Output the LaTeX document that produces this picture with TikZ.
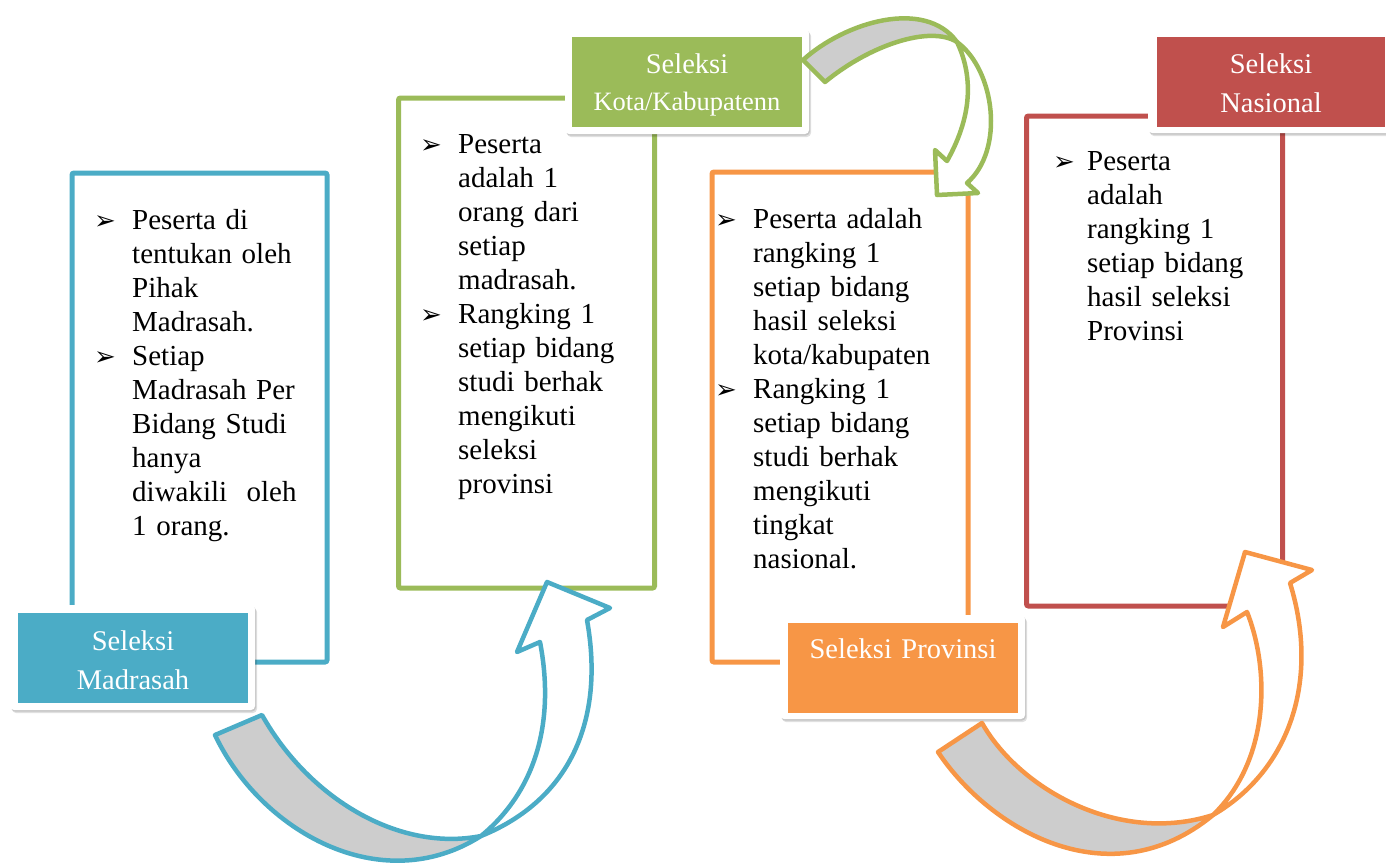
\documentclass[tikz,border=0pt]{standalone}
\usepackage{fontspec}
\setmainfont{Liberation Serif}
\newfontfamily\dejavu{DejaVu Sans}
\usetikzlibrary{shadows}
\definecolor{cblue}{HTML}{4BACC6}
\definecolor{cgreen}{HTML}{9BBB59}
\definecolor{corange}{HTML}{F79646}
\definecolor{cred}{HTML}{C0504D}
\definecolor{cgrey}{HTML}{CDCDCD}
\begin{document}
\begin{tikzpicture}[x=1pt,y=-1pt,
  frame/.style={draw=#1, line width=5pt, rounded corners=2pt, inner sep=0pt, outer sep=0pt},
  backing/.style={fill=white, rounded corners=4pt, inner sep=0pt, outer sep=0pt,
     double copy shadow={shadow xshift=1pt, shadow yshift=-1.5pt, opacity=0.12, fill=black, draw=none}},
  labelfill/.style={fill=#1, inner sep=0pt, outer sep=0pt},
  labeltext/.style={text=white, align=center, text width=230pt, inner sep=0pt,
     font=\fontsize{28.5}{39}\selectfont},
  bodytext/.style={align=left, text width=240pt, inner sep=0pt,
     font=\fontsize{29}{34}\selectfont},
  bul/.style={inner sep=0pt, font=\dejavu\fontsize{26}{30}\selectfont},
  arrowline/.style={draw=#1, line width=4.5pt, line join=round},
]
\useasboundingbox (0,0) rectangle (1386,862);

% ---------- frames ----------
\node[frame=cblue, minimum width=255pt, minimum height=489pt] (box1) at (199.5,417.5) {};
\node[frame=cgreen, minimum width=256pt, minimum height=490pt] (box2) at (526.5,343) {};
\node[frame=corange, minimum width=256pt, minimum height=490pt] (box3) at (840,417) {};
\node[frame=cred, minimum width=256pt, minimum height=490pt] (box4) at (1154.5,361) {};

% ---------- body texts ----------
\node[bul, anchor=base west] (b1a) at (94,229) {➢};
\node[bul, anchor=base west] (b1b) at (94,365) {➢};
\node[bodytext, anchor=base west] (t1) at (132,229)
  {Peserta di\\tentukan oleh\\Pihak\\Madrasah.\\Setiap\\Madrasah Per\\Bidang Studi\\hanya\\diwakili\ \ oleh\\1 orang.};

\node[bul, anchor=base west] (b2a) at (420,153) {➢};
\node[bul, anchor=base west] (b2b) at (420,323) {➢};
\node[bodytext, anchor=base west] (t2) at (458,153)
  {Peserta\\adalah 1\\orang dari\\setiap\\madrasah.\\Rangking 1\\setiap bidang\\studi berhak\\mengikuti\\seleksi\\provinsi};

\node[bul, anchor=base west] (b3a) at (715,228) {➢};
\node[bul, anchor=base west] (b3b) at (715,398) {➢};
\node[bodytext, anchor=base west] (t3) at (753,228)
  {Peserta adalah\\rangking 1\\setiap bidang\\hasil seleksi\\kota/kabupaten\\Rangking 1\\setiap bidang\\studi berhak\\mengikuti\\tingkat\\nasional.};

\node[bul, anchor=base west] (b4a) at (1053,170) {➢};
\node[bodytext, anchor=base west] (t4) at (1087,170)
  {Peserta\\adalah\\rangking 1\\setiap bidang\\hasil seleksi\\Provinsi};

% ---------- labels ----------
\node[backing, minimum width=245pt, minimum height=105pt] (l1w) at (132.5,657.5) {};
\node[labelfill=cblue, minimum width=230pt, minimum height=90pt] (l1) at (133,658) {};
\node[labeltext, anchor=base] (l1t) at (133,650) {Seleksi\\Madrasah};

\node[backing, minimum width=244pt, minimum height=105pt] (l2w) at (687,81.5) {};
\node[labelfill=cgreen, minimum width=230pt, minimum height=90pt] (l2) at (687,82) {};
\node[labeltext, anchor=base, font=\fontsize{28.5}{37}\selectfont] (l2t) at (687,73)
  {Seleksi\\\fontsize{26.5}{37}\selectfont Kota/Kabupatenn};

\node[backing, minimum width=245pt, minimum height=104pt] (l3w) at (902.5,667) {};
\node[labelfill=corange, minimum width=230pt, minimum height=90pt] (l3) at (903,668) {};
\node[labeltext, anchor=base] (l3t) at (903,658) {Seleksi Provinsi};

\node[backing, minimum width=245pt, minimum height=102pt] (l4w) at (1270.5,82) {};
\node[labelfill=cred, minimum width=228pt, minimum height=90pt] (l4) at (1271,82) {};
\node[labeltext, anchor=base] (l4t) at (1271,73) {Seleksi\\Nasional};

% ---------- blue curved arrow ----------
\coordinate (bT1) at (215,735);
\coordinate (bT2) at (262,715);
\coordinate (bX) at (481,836);
\coordinate (bB1) at (587,620);
\coordinate (bB2) at (610,608);
\coordinate (bTip) at (547,582);
\coordinate (bB3) at (517,652);
\coordinate (bB4) at (540,642);
\draw[arrowline=cblue, fill=cgrey] (bT1) .. controls (260,830) and (380,900) .. (bX)
   .. controls (400,852) and (310,800) .. (bT2) -- cycle;
\draw[arrowline=cblue, fill=white] (bX) .. controls (570,800) and (605,720) .. (bB1)
   -- (bB2) -- (bTip) -- (bB3) -- (bB4) .. controls (555,720) and (537,790) .. (bX) -- cycle;

% ---------- green curved arrow ----------
\coordinate (gT1) at (803,60);
\coordinate (gT2) at (825,82);
\coordinate (gX) at (957,42);
\coordinate (gB1) at (967,183);
\coordinate (gB2) at (978,193);
\coordinate (gTip) at (937,195);
\coordinate (gB3) at (935,150);
\coordinate (gB4) at (947,161);
\draw[arrowline=cgreen, fill=cgrey] (gT1) .. controls (845,22) and (925,-2) .. (gX)
   .. controls (930,25) and (870,45) .. (gT2) -- cycle;
\draw[arrowline=cgreen, fill=white] (gX) .. controls (995,70) and (1005,150) .. (gB1)
   -- (gB2) -- (gTip) -- (gB3) -- (gB4) .. controls (970,120) and (975,80) .. (gX) -- cycle;

% ---------- orange curved arrow ----------
\coordinate (oT1) at (938,752);
\coordinate (oT2) at (982,723);
\coordinate (oX) at (1213,815);
\coordinate (oB1) at (1290,583);
\coordinate (oB2) at (1312,570);
\coordinate (oTip) at (1245,552);
\coordinate (oB3) at (1223,627);
\coordinate (oB4) at (1247,612);
\draw[arrowline=corange, fill=cgrey] (oT1) .. controls (990,830) and (1110,900) .. (oX)
   .. controls (1120,845) and (1020,790) .. (oT2) -- cycle;
\draw[arrowline=corange, fill=white] (oX) .. controls (1290,770) and (1320,680) .. (oB1)
   -- (oB2) -- (oTip) -- (oB3) -- (oB4) .. controls (1270,670) and (1270,760) .. (oX) -- cycle;
\end{tikzpicture}
\end{document}
